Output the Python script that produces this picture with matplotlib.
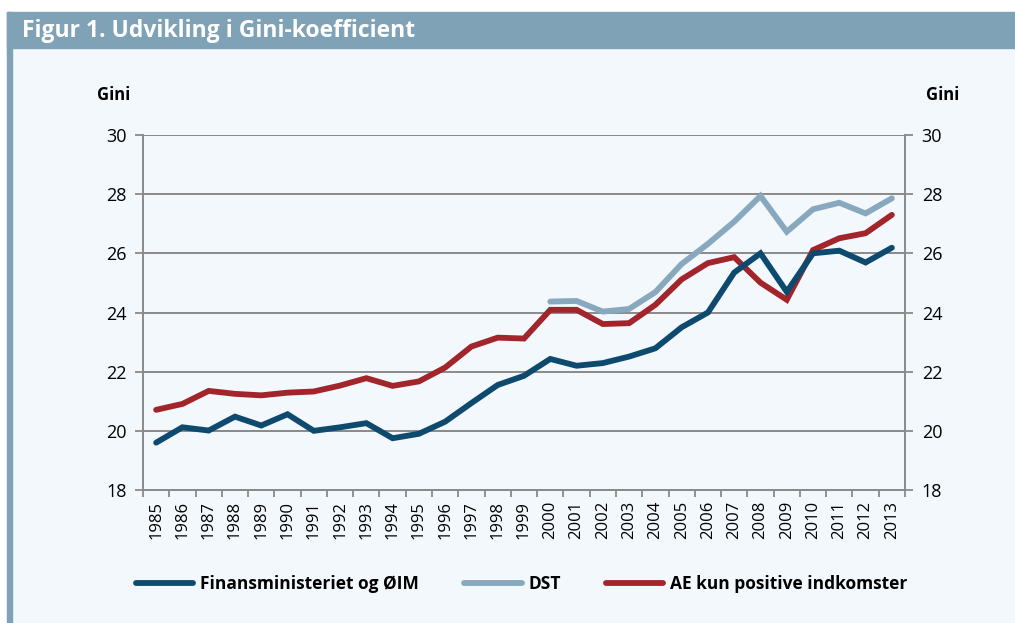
import matplotlib.pyplot as plt
from matplotlib.patches import Rectangle
from matplotlib.ticker import FixedLocator


years = list(range(1985, 2014))
finansministeriet = [
    19.6, 20.12, 20.01, 20.48, 20.18, 20.56, 20.0, 20.12, 20.26, 19.75,
    19.9, 20.31, 20.94, 21.55, 21.86, 22.43, 22.2, 22.29, 22.51, 22.79,
    23.5, 24.0, 25.35, 26.0, 24.7, 26.0, 26.09, 25.69, 26.19,
]
dst_years = list(range(2000, 2014))
dst = [
    24.37, 24.39, 24.03, 24.12, 24.69, 25.64, 26.32, 27.07, 27.94, 26.73,
    27.49, 27.71, 27.35, 27.86,
]
ae_positive = [
    20.71, 20.91, 21.35, 21.25, 21.2, 21.29, 21.33, 21.53, 21.78, 21.52,
    21.67, 22.14, 22.85, 23.15, 23.12, 24.09, 24.09, 23.61, 23.64, 24.26,
    25.12, 25.67, 25.87, 25.01, 24.43, 26.11, 26.51, 26.68, 27.3,
]
series_labels = ["Finansministeriet og ØIM", "DST", "AE kun positive indkomster"]
y_ticks = [18, 20, 22, 24, 26, 28, 30]

BG = "#f3f8fd"
HEADER = "#7fa2b6"
DARK_BLUE = "#0d4a6e"
LIGHT_BLUE = "#88a8bd"
RED = "#a2252b"
GRID = "#8a8a8a"

plt.rcParams["font.family"] = ["Open Sans", "DejaVu Sans"]

W, H = 1015, 623
fig = plt.figure(figsize=(W / 100, H / 100), dpi=100, facecolor="white")

# panel background, left strip and header bar
fig.patches.append(Rectangle((7 / W, 0), 1 - 7 / W, 1 - 12 / H,
                             transform=fig.transFigure, color=BG, zorder=-3))
fig.patches.append(Rectangle((7 / W, 0), 5 / W, 1 - 12 / H,
                             transform=fig.transFigure, color=HEADER, zorder=-2))
fig.patches.append(Rectangle((7 / W, 1 - 48 / H), 1 - 7 / W, 36 / H,
                             transform=fig.transFigure, color=HEADER, zorder=-2))
fig.text(22 / W, 1 - 31 / H, "Figur 1. Udvikling i Gini-koefficient",
         color="white", fontsize=16.5, fontweight="bold", va="center", ha="left")

ax = fig.add_axes([143 / W, 1 - 490 / H, 762 / W, 355 / H])
ax.set_facecolor(BG)

x = list(range(len(years)))
x_dst = [years.index(y) for y in dst_years]
ax.plot(x, finansministeriet, color=DARK_BLUE, lw=4.2, solid_capstyle="round",
        solid_joinstyle="miter", label=series_labels[0], zorder=3)
ax.plot(x_dst, dst, color=LIGHT_BLUE, lw=4.2, solid_capstyle="round",
        solid_joinstyle="miter", label=series_labels[1], zorder=2)
ax.plot(x, ae_positive, color=RED, lw=4.2, solid_capstyle="round",
        solid_joinstyle="miter", label=series_labels[2], zorder=2)

ax.set_xlim(-0.5, len(years) - 0.5)
ax.set_ylim(18, 30)
ax.set_yticks(y_ticks)
ax.set_xticks(x)
ax.set_xticklabels([str(y) for y in years], rotation=90, fontsize=12)
ax.xaxis.set_minor_locator(FixedLocator([i - 0.5 for i in range(len(years) + 1)]))
ax.tick_params(axis="x", which="major", length=0, pad=8)
ax.tick_params(axis="x", which="minor", length=5, width=1.3, color=GRID, direction="out")
ax.tick_params(axis="y", which="major", length=6, width=1.3, color=GRID,
               labelsize=13, left=True, right=True, labelleft=True,
               labelright=True, pad=6)
ax.grid(axis="y", color=GRID, lw=1.4, zorder=0)
for side in ["left", "right", "bottom", "top"]:
    ax.spines[side].set_color(GRID)
    ax.spines[side].set_linewidth(1.4)
ax.spines["top"].set_visible(False)

fig.text(97 / W, 1 - 95 / H, "Gini", fontsize=12, fontweight="bold", va="center")
fig.text(926 / W, 1 - 95 / H, "Gini", fontsize=12, fontweight="bold", va="center")

fig.legend(loc="center", bbox_to_anchor=(522 / W, 1 - 584 / H), ncol=3,
           frameon=False, handlelength=3.3, handletextpad=0.4,
           columnspacing=2.6, prop={"weight": "bold", "size": 12.5})

fig.savefig("out.png", dpi=100, facecolor=fig.get_facecolor())
